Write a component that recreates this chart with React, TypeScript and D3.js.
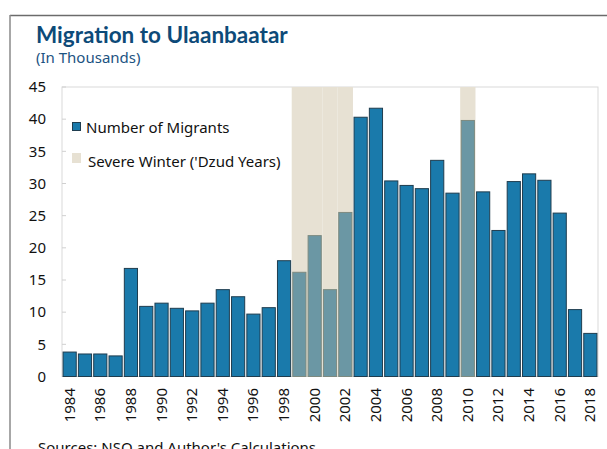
import React from "react";
import * as d3 from "d3";

const years = [1984,1985,1986,1987,1988,1989,1990,1991,1992,1993,1994,1995,1996,1997,1998,1999,2000,2001,2002,2003,2004,2005,2006,2007,2008,2009,2010,2011,2012,2013,2014,2015,2016,2017,2018];
const migrants = [3.8,3.5,3.5,3.2,16.8,10.9,11.4,10.6,10.2,11.4,13.5,12.4,9.7,10.7,18.0,16.2,21.9,13.5,25.5,40.3,41.7,30.4,29.7,29.2,33.6,28.5,39.8,28.7,22.7,30.3,31.5,30.5,25.4,10.4,6.7];
const dzudYears = [1999,2000,2001,2002,2010];
const yTicks = [0,5,10,15,20,25,30,35,40,45];
const xTickYears = years.filter((y) => y % 2 === 0);

const W = 607, H = 449;
const left = 62, right = 598, top = 87, bottom = 376.5;
const font = "'Noto Sans', sans-serif";

export default function App() {
  const x = d3.scaleBand<number>().domain(years).range([left, right]).paddingInner(0.14).paddingOuter(0.07);
  const y = d3.scaleLinear().domain([0, 45]).range([bottom, top]);
  const bw = (right - left) / years.length;
  const bandStart = (yr: number) => left + years.indexOf(yr) * bw;
  const blue = "#1a7aab";
  const shadedBar = "#6b97a4";
  const shade = "#e7e1d3";

  return (
    <svg width={W} height={H} style={{ display: "block", position: "absolute", left: 0, top: 0 }}>
      <rect x={0} y={0} width={W} height={H} fill="#fff" />
      <line x1={10} y1={15.5} x2={W} y2={15.5} stroke="#6b6b6b" strokeWidth={1.5} />
      <line x1={10} y1={15} x2={10} y2={H} stroke="#8a8a8a" strokeWidth={1.5} />
      <text x={36} y={43} fontFamily="Lato, sans-serif" fontWeight={700} fontSize={22.5} fill="#0d4a78">Migration to Ulaanbaatar</text>
      <text x={36} y={63} fontFamily={font} fontSize={15} fill="#1c5382">(In Thousands)</text>

      {/* plot frame */}
      <rect x={left} y={top} width={right - left} height={bottom - top} fill="none" stroke="#d9d9d9" strokeWidth={1} />

      {/* dzud shading */}
      {dzudYears.map((yr) => (
        <rect key={"s" + yr} x={bandStart(yr)} y={top} width={bw} height={bottom - top} fill={shade} />
      ))}

      {/* y ticks */}
      {yTicks.map((t) => (
        <g key={"yt" + t}>
          <line x1={left} x2={left + 4} y1={y(t)} y2={y(t)} stroke="#d0d0d0" />
          <text x={46} y={y(t)} dy="0.35em" textAnchor="end" fontFamily={font} fontSize={15} fill="#111">{t}</text>
        </g>
      ))}

      {/* bars */}
      {years.map((yr, i) => {
        const isDzud = dzudYears.includes(yr);
        return (
          <rect
            key={"b" + yr}
            x={x(yr)}
            y={y(migrants[i])}
            width={x.bandwidth()}
            height={bottom - y(migrants[i])}
            fill={isDzud ? shadedBar : blue}
            stroke={isDzud ? "#7d8a80" : "#1f3d4f"}
            strokeWidth={1}
          />
        );
      })}

      {/* x labels */}
      {xTickYears.map((yr) => {
        const cx = (x(yr) as number) + x.bandwidth() / 2;
        return (
          <text key={"xl" + yr} transform={`translate(${cx + 5},388) rotate(-90)`} textAnchor="end" fontFamily={font} fontSize={15} fill="#111">{yr}</text>
        );
      })}

      {/* legend */}
      <rect x={72.5} y={122.5} width={8} height={8} fill={blue} stroke="#1f3d4f" strokeWidth={1} />
      <text x={86} y={133} fontFamily={font} fontSize={15} fill="#111">Number of Migrants</text>
      <rect x={72} y={153} width={9} height={10} fill={shade} />
      <text x={88} y={167} fontFamily={font} fontSize={15} fill="#111">Severe Winter ('Dzud Years)</text>

      <text x={38} y={453} fontFamily={font} fontSize={15} fill="#111">Sources: NSO and Author's Calculations</text>
    </svg>
  );
}
